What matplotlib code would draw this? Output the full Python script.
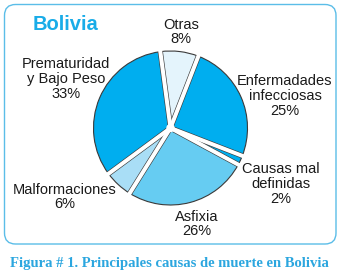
import matplotlib
matplotlib.use("Agg")
import matplotlib.pyplot as plt
import numpy as np
from matplotlib.patches import FancyBboxPatch

categories = ["Otras", "Enfermadades\ninfecciosas", "Causas mal\ndefinidas",
              "Asfixia", "Malformaciones", "Prematuridad\ny Bajo Peso"]
values = [8, 25, 2, 26, 6, 33]
colors = ["#E4F4FC", "#00AEEF", "#00AEEF", "#66CCF2", "#A9DEF6", "#00AEEF"]

W, H = 341, 275
fig = plt.figure(figsize=(W / 100, H / 100), dpi=100)
ax = fig.add_axes([0, 0, 1, 1])

def Y(y):
    return H - y

cx, cy, r = 170.5, Y(128), 77
start = 97.6
ax.pie(values, colors=colors, startangle=start, counterclock=False,
       center=(cx, cy), radius=r, frame=True,
       wedgeprops=dict(edgecolor="#3a3a3a", linewidth=0.8))
ax.set_xlim(0, W)
ax.set_ylim(0, H)
ax.set_aspect("auto")
ax.axis("off")

# frame
frame = FancyBboxPatch((4.5, Y(244)), 331.5, 239.5,
                       boxstyle="round,pad=0,rounding_size=11",
                       fc="none", ec="#5BBDE8", lw=1.0, zorder=0)
ax.add_patch(frame)

# gaps
ang = start
bounds = [ang]
for v in values:
    ang -= v / sum(values) * 360
    bounds.append(ang)
for a in bounds[:-1]:
    t = np.deg2rad(a)
    x1, y1 = cx + r * np.cos(t), cy + r * np.sin(t)
    ax.plot([cx, x1], [cy, y1], color="#3a3a3a", lw=3.8, solid_capstyle="butt", zorder=5)
for a in bounds[:-1]:
    t = np.deg2rad(a)
    x1, y1 = cx + (r + 1.5) * np.cos(t), cy + (r + 1.5) * np.sin(t)
    ax.plot([cx, x1], [cy, y1], color="white", lw=2.9, solid_capstyle="butt", zorder=6)
ax.add_patch(plt.Circle((cx, cy), 3.5, color="white", zorder=7))

fs = 10.5
font = "Liberation Sans"
labels_pos = [(181, 32), (285, 96), (281, 184), (197, 224), (65, 197), (66, 79)]
for cat, v, (x, y) in zip(categories, values, labels_pos):
    ax.text(x, Y(y), f"{cat}\n{v}%", ha="center", va="center", fontsize=fs,
            family=font, color="#1a1a1a", linespacing=1.08)

ax.text(66, Y(24), "Bolivia", ha="center", va="center", fontsize=14.5,
        family=font, weight="bold", color="#19ACE8")

ax.text(169, Y(263), "Figura # 1. Principales causas de muerte en Bolivia",
        ha="center", va="center", fontsize=10.5, family="Liberation Serif",
        weight="bold", color="#2BA6DF")

fig.savefig("out.png", dpi=100)
